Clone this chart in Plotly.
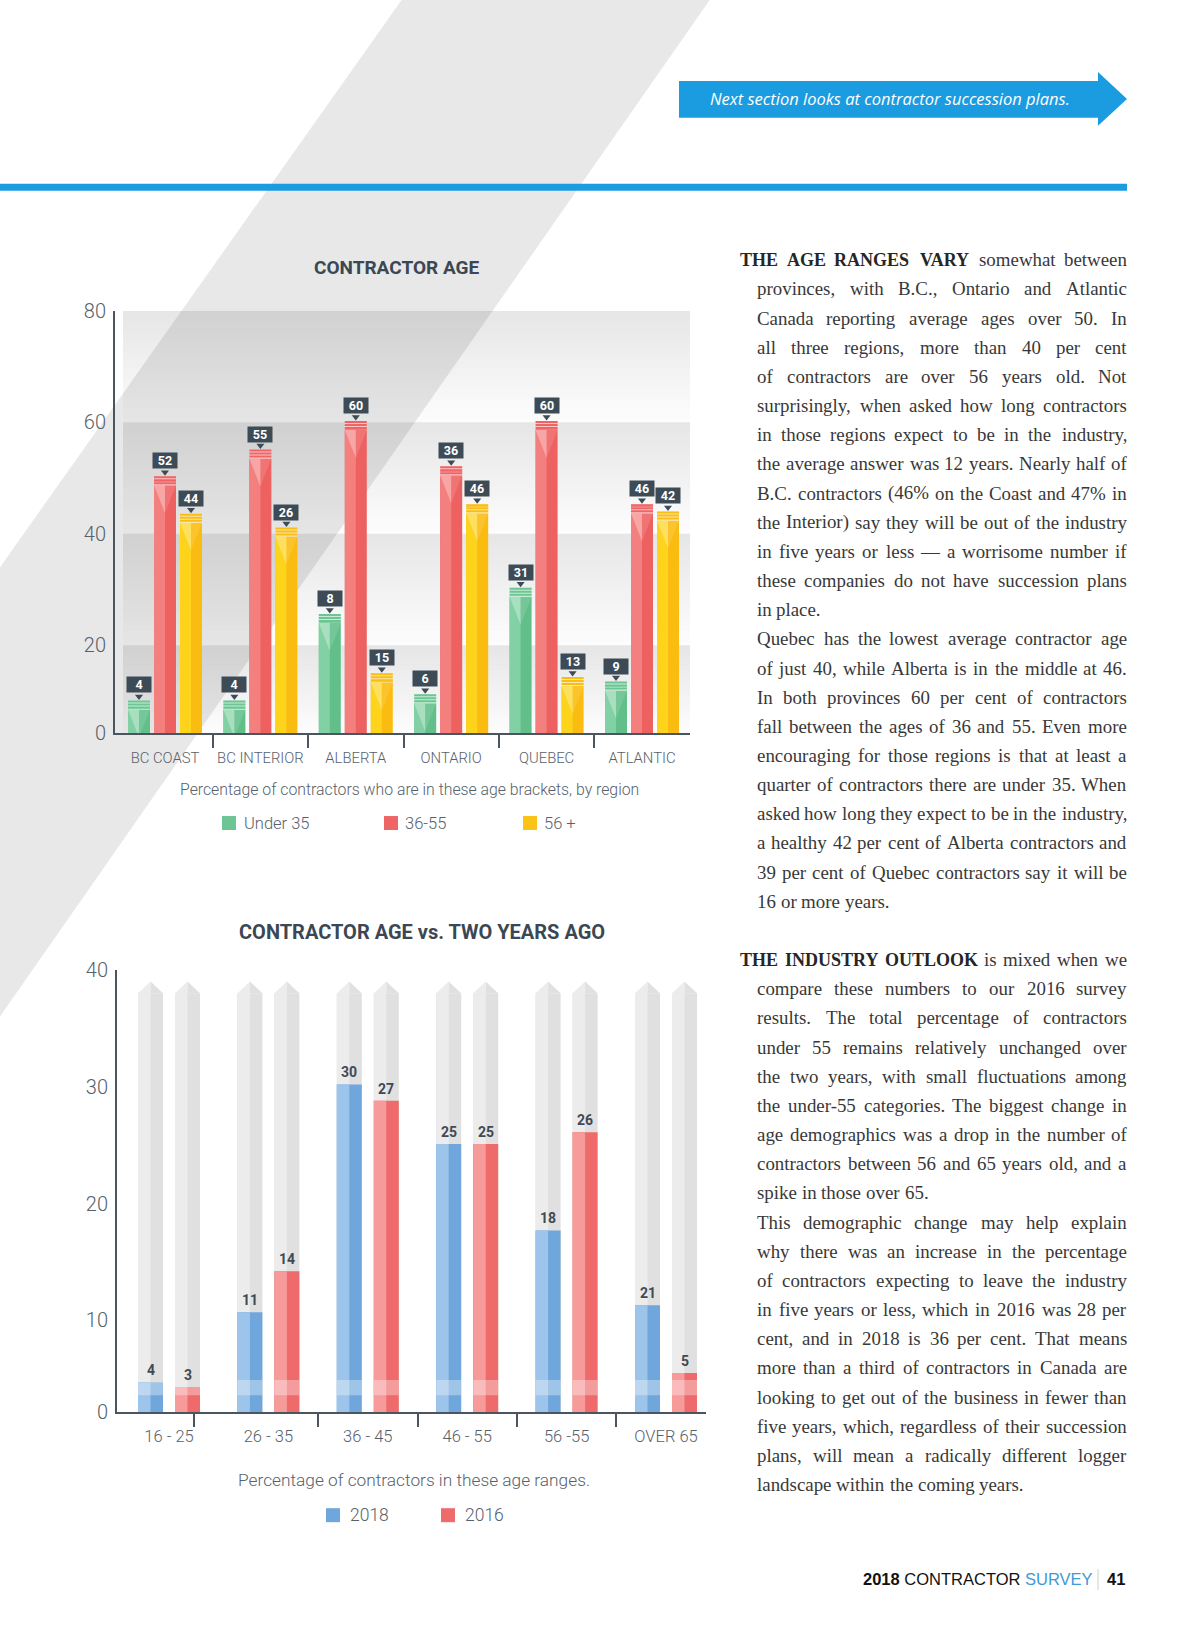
import plotly.graph_objects as go

W, H = 1200, 1634
# vertical calibration of the captured picture (measured from previous renders)
CAP_OFF, CAP_SCALE = 11.0, 0.9865


def px(x):
    return x / W


def py(y):
    return 1 - ((y - CAP_OFF) / CAP_SCALE) / H


# ---------------- chart 1 data : CONTRACTOR AGE ----------------
regions = ["BC COAST", "BC INTERIOR", "ALBERTA", "ONTARIO", "QUEBEC", "ATLANTIC"]
under35_height = [10.1, 10.1, 25.6, 11.2, 30.3, 13.5]   # bar heights as drawn
mid_height = [50.3, 55.1, 60.2, 52.1, 60.2, 45.3]
over56_height = [43.6, 41.1, 15.0, 45.3, 14.3, 44.0]
under35_label = ["4", "4", "8", "6", "31", "9"]           # numbers printed
mid_label = ["52", "55", "60", "36", "60", "46"]
over56_label = ["44", "26", "15", "46", "13", "42"]
y1_ticktext = ["0", "20", "40", "60", "80"]
y1_tickvals = [4.25, 20, 40, 60, 80]
legend1 = ["Under 35", "36-55", "56 +"]

# ---------------- chart 2 data : CONTRACTOR AGE vs. TWO YEARS AGO ----------------
age_ranges = ["16 - 25", "26 - 35", "36 - 45", "46 - 55", "56 -55", "OVER 65"]
y2018_height = [4.7, 10.7, 30.2, 25.1, 17.7, 11.3]
y2016_height = [4.3, 14.2, 28.8, 25.1, 26.1, 5.5]
y2018_label = ["4", "11", "30", "25", "18", "21"]
y2016_label = ["3", "14", "27", "25", "26", "5"]
y2_ticktext = ["0", "10", "20", "30", "40"]
y2_tickvals = [2.14, 10, 20, 30, 40]
legend2 = ["2018", "2016"]

# ---------------- page text ----------------
para1 = [
    "THE AGE RANGES VARY somewhat between",
    "provinces, with B.C., Ontario and Atlantic",
    "Canada reporting average ages over 50. In",
    "all three regions, more than 40 per cent",
    "of contractors are over 56 years old. Not",
    "surprisingly, when asked how long contractors",
    "in those regions expect to be in the industry,",
    "the average answer was 12 years. Nearly half of",
    "B.C. contractors (46% on the Coast and 47% in",
    "the Interior) say they will be out of the industry",
    "in five years or less \u2014 a worrisome number if",
    "these companies do not have succession plans",
    "in place.",
    "Quebec has the lowest average contractor age",
    "of just 40, while Alberta is in the middle at 46.",
    "In both provinces 60 per cent of contractors",
    "fall between the ages of 36 and 55. Even more",
    "encouraging for those regions is that at least a",
    "quarter of contractors there are under 35. When",
    "asked how long they expect to be in the industry,",
    "a healthy 42 per cent of Alberta contractors and",
    "39 per cent of Quebec contractors say it will be",
    "16 or more years.",
]
para2 = [
    "THE INDUSTRY OUTLOOK is mixed when we",
    "compare these numbers to our 2016 survey",
    "results. The total percentage of contractors",
    "under 55 remains relatively unchanged over",
    "the two years, with small fluctuations among",
    "the under-55 categories. The biggest change in",
    "age demographics was a drop in the number of",
    "contractors between 56 and 65 years old, and a",
    "spike in those over 65.",
    "This demographic change may help explain",
    "why there was an increase in the percentage",
    "of contractors expecting to leave the industry",
    "in five years or less, which in 2016 was 28 per",
    "cent, and in 2018 is 36 per cent. That means",
    "more than a third of contractors in Canada are",
    "looking to get out of the business in fewer than",
    "five years, which, regardless of their succession",
    "plans, will mean a radically different logger",
    "landscape within the coming years.",
]
ragged = {"in place.", "16 or more years.", "spike in those over 65.",
          "landscape within the coming years."}
heading_words = {0: 4, 24: 3}

# ---------------- geometry (pixels on the page) ----------------
C1_X0, C1_X1, C1_Y0, C1_Y1 = 115, 690, 310, 733
C1_C0, C1_PITCH = 165, 95.4
C1_YMIN, C1_YMAX = y1_tickvals[0], y1_tickvals[-1]
U1 = (C1_YMAX - C1_YMIN) / (C1_Y1 - C1_Y0)   # y units per px
X1 = 1 / C1_PITCH
x1_range = [(C1_X0 - C1_C0) * X1, (C1_X1 - C1_C0) * X1]

C2_X0, C2_X1, C2_Y0, C2_Y1 = 117, 706, 970, 1413
C2_C0, C2_PITCH = 169, 99.4
C2_YMIN, C2_YMAX = y2_tickvals[0], y2_tickvals[-1]
U2 = (C2_YMAX - C2_YMIN) / (C2_Y1 - C2_Y0)
X2 = 1 / C2_PITCH
x2_range = [(C2_X0 - C2_C0) * X2, (C2_X1 - C2_C0) * X2]

AXIS = "#4a5560"
SLATE = "#3d4b57"
GREYTXT = "#56616b"

fig = go.Figure()
ann = []
shapes = []


def note(x, y, text, font, xanchor="center", yanchor="middle", **kw):
    d = dict(x=x, y=y, xref="paper", yref="paper", text=text, showarrow=False,
             xanchor=xanchor, yanchor=yanchor, font=font, borderpad=0, borderwidth=0)
    d.update(kw)
    ann.append(d)


# ---------------- chart 1 background bands (gradient steps) ----------------
bu0 = (123 - C1_C0) * X1
band_edges = y1_tickvals
b_base, b_h, b_col = [], [], []
for lo, hi in zip(band_edges[:-1], band_edges[1:]):
    n = max(1, int(round((hi - lo) / U1 / 2)))
    dh = (hi - lo) / n
    for j in range(n):
        t = (j + 0.5) / n
        b_base.append(lo + j * dh)
        b_h.append(dh)
        b_col.append(f"rgba(0,0,0,{0.010 + 0.090 * t:.4f})")
fig.add_trace(go.Bar(x=[bu0] * len(b_base), y=b_h, base=b_base, offset=0,
                     width=x1_range[1] - bu0, marker=dict(color=b_col, line=dict(width=0)),
                     xaxis="x", yaxis="y", hoverinfo="skip"))

# ---------------- chart 1 bars ----------------
s1 = [
    (under35_height, under35_label, -26, "#82d1a4", "#62bf8a", "#c9ecd8", "#6cc593", legend1[0]),
    (mid_height, mid_label, 0, "#f47f7f", "#ee6161", "#fac6c6", "#ef6565", legend1[1]),
    (over56_height, over56_label, 26, "#fdd31c", "#fbbc11", "#fee8a6", "#f9bd16", legend1[2]),
]
BW1 = 22 * X1
xs = list(range(len(regions)))
lx, ly, rx, ry = [], [], [], []
ptx, pty = [], []
for heights, labels, offp, light, dark, capbg, stripe, name in s1:
    off = offp * X1
    body = [h - 9 * U1 for h in heights]
    common = dict(x=xs, xaxis="x", yaxis="y", hoverinfo="skip", offset=off - BW1 / 2)
    fig.add_trace(go.Bar(y=body, width=BW1, marker=dict(color=dark, line=dict(width=0)), name=name, **common))
    fig.add_trace(go.Bar(y=body, width=BW1 / 2, marker=dict(color=light, line=dict(width=0)), **common))
    fig.add_trace(go.Bar(y=[9 * U1] * len(xs), base=body, width=BW1,
                         marker=dict(color=capbg, line=dict(width=0)), **common))
    for k in range(3):
        fig.add_trace(go.Bar(y=[2 * U1] * len(xs), base=[h - (3 * k + 2) * U1 for h in heights],
                             width=BW1, marker=dict(color=stripe, line=dict(width=0)), **common))
    for i, h in enumerate(heights):
        xc = i + off
        t = h - 9 * U1
        lx += [xc - BW1 / 2, xc, xc, None]
        ly += [t, t, t - 28 * U1, None]
        rx += [xc, xc + BW1 / 2, xc, None]
        ry += [t, t, t - 28 * U1, None]
        ptx.append(xc)
        pty.append(h + 4 * U1)
        ann.append(dict(x=xc, y=h, xref="x", yref="y", text=labels[i], showarrow=False,
                        xanchor="center", yanchor="bottom", yshift=7, bgcolor=SLATE,
                        width=24, height=15, borderpad=0, align="center",
                        font=dict(family="Roboto", size=12.5, color="white", weight=700)))
fig.add_trace(go.Scatter(x=lx, y=ly, fill="toself", mode="none", fillcolor="rgba(255,255,255,0.30)",
                         xaxis="x", yaxis="y", hoverinfo="skip"))
fig.add_trace(go.Scatter(x=rx, y=ry, fill="toself", mode="none", fillcolor="rgba(255,255,255,0.12)",
                         xaxis="x", yaxis="y", hoverinfo="skip"))
fig.add_trace(go.Scatter(x=ptx, y=pty, mode="markers", cliponaxis=False,
                         marker=dict(symbol="triangle-down", size=7, color=SLATE, line=dict(width=0)),
                         xaxis="x", yaxis="y", hoverinfo="skip"))

# ---------------- chart 2 bars ----------------
s2 = [
    (y2018_height, y2018_label, -18.5, "#9dc4ea", "#6fa7dc", legend2[0]),
    (y2016_height, y2016_label, 18.5, "#f69a9a", "#ef6a6a", legend2[1]),
]
BW2 = 25 * X2
TRACK_SH, TRACK_TIP = 38.0, 39.0
tlx, tly, trx, tr_y = [], [], [], []
for heights, labels, offp, light, dark, name in s2:
    off = offp * X2
    common = dict(x=xs, xaxis="x2", yaxis="y2", hoverinfo="skip", offset=off - BW2 / 2)
    fig.add_trace(go.Bar(y=[TRACK_SH] * len(xs), width=BW2, marker=dict(color="#e0e0e0", line=dict(width=0)), **common))
    fig.add_trace(go.Bar(y=[TRACK_SH] * len(xs), width=BW2 / 2, marker=dict(color="#ececec", line=dict(width=0)), **common))
    for i in xs:
        xc = i + off
        tlx += [xc - BW2 / 2, xc, xc, None]
        tly += [TRACK_SH, TRACK_TIP, TRACK_SH - 0.01, None]
        trx += [xc, xc + BW2 / 2, xc, None]
        tr_y += [TRACK_TIP, TRACK_SH, TRACK_SH - 0.01, None]
for heights, labels, offp, light, dark, name in s2:
    off = offp * X2
    common = dict(x=xs, xaxis="x2", yaxis="y2", hoverinfo="skip", offset=off - BW2 / 2)
    fig.add_trace(go.Bar(y=heights, width=BW2, marker=dict(color=dark, line=dict(width=0)), name=name, **common))
    fig.add_trace(go.Bar(y=heights, width=BW2 / 2, marker=dict(color=light, line=dict(width=0)), **common))
    fig.add_trace(go.Bar(y=[max(0, min(1.3, h - 3.6)) for h in heights], base=[3.6] * len(xs), width=BW2,
                         marker=dict(color="rgba(255,255,255,0.33)", line=dict(width=0)), **common))
    for i, h in enumerate(heights):
        ann.append(dict(x=i + off, y=h, xref="x2", yref="y2", text=labels[i], showarrow=False,
                        xanchor="center", yanchor="middle", yshift=12,
                        font=dict(family="Roboto", size=14, color="#3f4a55", weight=700)))
fig.add_trace(go.Scatter(x=tlx, y=tly, fill="toself", mode="none", fillcolor="#ececec",
                         xaxis="x2", yaxis="y2", hoverinfo="skip"))
fig.add_trace(go.Scatter(x=trx, y=tr_y, fill="toself", mode="none", fillcolor="#e0e0e0",
                         xaxis="x2", yaxis="y2", hoverinfo="skip"))

# ---------------- page decorations ----------------
shapes.append(dict(type="path", xref="paper", yref="paper", layer="below",
                   path=(f"M {px(415)},{py(-20)} L {px(723)},{py(-20)} "
                         f"L {px(-10)},{py(1031)} L {px(-10)},{py(581)} Z"),
                   fillcolor="rgba(0,0,0,0.09)", line=dict(width=0)))
BLUE = "#1b9be0"
shapes.append(dict(type="rect", xref="paper", yref="paper", x0=px(679), x1=px(1099), y0=py(117), y1=py(80),
                   fillcolor=BLUE, line=dict(width=0)))
shapes.append(dict(type="path", xref="paper", yref="paper",
                   path=f"M {px(1098)},{py(71)} L {px(1127)},{py(98)} L {px(1098)},{py(125)} Z",
                   fillcolor=BLUE, line=dict(width=0)))
shapes.append(dict(type="rect", xref="paper", yref="paper", x0=px(-5), x1=px(1127), y0=py(190), y1=py(183),
                   fillcolor=BLUE, line=dict(width=0)))
note(px(890), py(98), "Next section looks at contractor succession plans.",
     dict(family="Open Sans", size=16.5, color="white", style="italic"))

note(px(396), py(267), "CONTRACTOR AGE", dict(family="Roboto", size=19, color="#3b4753", weight=700))
note(px(422), py(932), "CONTRACTOR AGE vs. TWO YEARS AGO",
     dict(family="Roboto", size=20, color="#3b4753", weight=700))
note(px(409), py(789), "Percentage of contractors who are in these age brackets, by region",
     dict(family="Roboto", size=15.8, color=GREYTXT, weight=300))
note(px(414), py(1481), "Percentage of contractors in these age ranges.",
     dict(family="Roboto", size=17.3, color=GREYTXT, weight=300))

for (name, col, sx, tx) in [(legend1[0], "#6cc593", 222, 244), (legend1[1], "#ef6565", 384, 405),
                            (legend1[2], "#fbc217", 523, 544)]:
    shapes.append(dict(type="rect", xref="paper", yref="paper", x0=px(sx), x1=px(sx + 14),
                       y0=py(830), y1=py(816), fillcolor=col, line=dict(width=0)))
    note(px(tx), py(823), name, dict(family="Roboto", size=16.5, color=GREYTXT, weight=300), xanchor="left")
for (name, col, sx, tx) in [(legend2[0], "#6fa7dc", 326, 350), (legend2[1], "#ef6a6a", 441, 465)]:
    shapes.append(dict(type="rect", xref="paper", yref="paper", x0=px(sx), x1=px(sx + 14),
                       y0=py(1523), y1=py(1509), fillcolor=col, line=dict(width=0)))
    note(px(tx), py(1516), name, dict(family="Roboto", size=17.5, color=GREYTXT, weight=300), xanchor="left")

note(px(863), py(1580), "<b>2018</b> CONTRACTOR <span style='color:#3d9ad6'>SURVEY</span>",
     dict(family="Liberation Sans", size=16.5, color="#111111"), xanchor="left")
shapes.append(dict(type="line", xref="paper", yref="paper", x0=px(1098), x1=px(1098),
                   y0=py(1591), y1=py(1570), line=dict(color="#cfcfcf", width=1)))
note(px(1107), py(1580), "<b>41</b>", dict(family="Liberation Sans", size=16.5, color="#111111"), xanchor="left")

# ---------------- justified body text ----------------
REG = dict(zip("abcdefghijklmnopqrstuvwxyz",
               [444, 500, 444, 500, 444, 333, 500, 500, 278, 278, 500, 278, 778, 500, 500, 500, 500,
                333, 389, 278, 500, 500, 722, 500, 500, 444]))
REG.update(zip("ABCDEFGHIJKLMNOPQRSTUVWXYZ",
               [722, 667, 667, 722, 611, 556, 722, 722, 333, 389, 722, 611, 889, 722, 722, 556, 722,
                667, 556, 611, 722, 722, 944, 722, 722, 611]))
REG.update({c: 500 for c in "0123456789"})
REG.update({" ": 250, ",": 250, ".": 250, "(": 333, ")": 333, "%": 833, "-": 333, "\u2014": 1000})
BOLD = dict(zip("ABCDEFGHIJKLMNOPQRSTUVWXYZ",
                [722, 667, 722, 722, 667, 611, 778, 778, 389, 500, 778, 667, 944, 722, 778, 611, 778,
                 722, 556, 667, 722, 722, 1000, 722, 722, 667]))
FS = 18.9
FSB = 18.0
TEXT_Y0, TEXT_LH = 259, 29.2
LEFT_IN, LEFT_OUT, RIGHT = 757, 740, 1127


def word_w(word, bold):
    if bold:
        return sum(BOLD.get(c, REG.get(c, 500)) for c in word) * FSB / 1000
    return sum(REG.get(c, 500) for c in word) * FS / 1000


body_lines = para1 + [""] + para2
for k, line in enumerate(body_lines):
    if not line:
        continue
    yy = TEXT_Y0 + k * TEXT_LH
    nb = heading_words.get(k, 0)
    left = LEFT_OUT if nb else LEFT_IN
    words = line.split(" ")
    ws = [word_w(w, i < nb) for i, w in enumerate(words)]
    just = line not in ragged
    gap = (RIGHT - left - sum(ws)) / (len(words) - 1) if just else 0.26 * FS
    x = left
    for i, (w, ww) in enumerate(zip(words, ws)):
        if i == 0:
            xa, xx = "left", left
        elif just and i == len(words) - 1:
            xa, xx = "right", RIGHT
        else:
            xa, xx = "center", x + ww / 2
        bold = i < nb
        note(px(xx), py(yy), f"<b>{w}</b>" if bold else w,
             dict(family="Liberation Serif", size=FSB if bold else FS,
                  color="#262626" if bold else "#383838"), xanchor=xa)
        x += ww + gap

# ---------------- axes ----------------
tickfont_y = dict(family="Roboto", size=20, color=GREYTXT, weight=300)
fig.update_layout(
    width=W, height=H, margin=dict(l=0, r=0, t=0, b=0, pad=0),
    paper_bgcolor="white", plot_bgcolor="rgba(0,0,0,0)",
    barmode="overlay", showlegend=False, hovermode=False,
    font=dict(family="Roboto"),
    xaxis=dict(domain=[px(C1_X0), px(C1_X1)], range=x1_range, anchor="y",
               tickmode="array", tickvals=xs, ticktext=regions, ticks="",
               showline=True, linecolor=AXIS, linewidth=2, showgrid=False, zeroline=False,
               tickfont=dict(family="Roboto", size=14.8, color=GREYTXT, weight=300),
               ticklabelstandoff=10, fixedrange=True,
               minor=dict(tickmode="array", tickvals=[0.5, 1.5, 2.5, 3.5, 4.5], ticks="outside",
                          ticklen=13, tickwidth=2, tickcolor=AXIS, showgrid=False)),
    yaxis=dict(domain=[py(C1_Y1), py(C1_Y0)], range=[C1_YMIN, C1_YMAX], anchor="x",
               tickmode="array", tickvals=y1_tickvals, ticktext=y1_ticktext, ticks="",
               showline=True, linecolor=AXIS, linewidth=2, showgrid=False, zeroline=False,
               tickfont=tickfont_y, ticklabelstandoff=3, fixedrange=True),
    xaxis2=dict(domain=[px(C2_X0), px(C2_X1)], range=x2_range, anchor="y2",
                tickmode="array", tickvals=xs, ticktext=age_ranges, ticks="",
                showline=True, linecolor=AXIS, linewidth=2, showgrid=False, zeroline=False,
                tickfont=dict(family="Roboto", size=16.5, color=GREYTXT, weight=300),
                ticklabelstandoff=8, fixedrange=True,
                minor=dict(tickmode="array", tickvals=[0.25, 1.5, 2.5, 3.5, 4.5], ticks="outside",
                           ticklen=13, tickwidth=2, tickcolor=AXIS, showgrid=False)),
    yaxis2=dict(domain=[py(C2_Y1), py(C2_Y0)], range=[C2_YMIN, C2_YMAX], anchor="x2",
                tickmode="array", tickvals=y2_tickvals, ticktext=y2_ticktext, ticks="",
                showline=True, linecolor=AXIS, linewidth=2, showgrid=False, zeroline=False,
                tickfont=tickfont_y, ticklabelstandoff=3, fixedrange=True),
    annotations=ann, shapes=shapes,
)

fig.write_html("out.html", config={"displayModeBar": False},
               post_script="document.body.style.margin='0';document.documentElement.style.margin='0';document.body.style.overflow='hidden';")
